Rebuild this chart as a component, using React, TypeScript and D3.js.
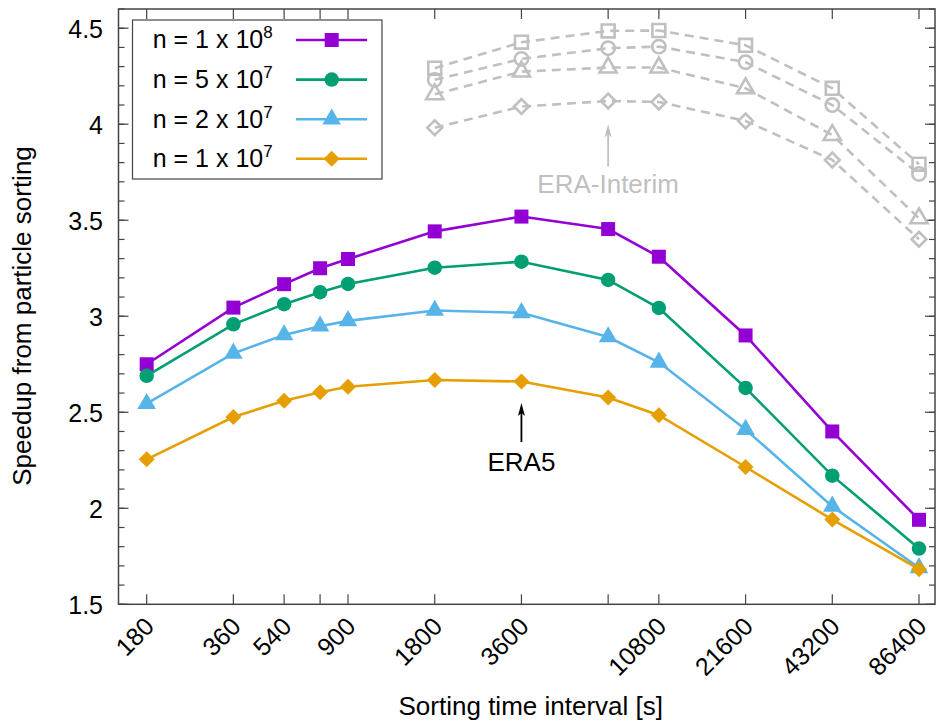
import React from 'react';
import * as d3 from 'd3';

// ---- data ----
const intervals = [180, 360, 540, 720, 900, 1800, 3600, 7200, 10800, 21600, 43200, 86400];
const xTickLabels = ['180', '360', '540', '', '900', '1800', '3600', '', '10800', '21600', '43200', '86400'];
const era5N1e8 = [2.75, 3.045, 3.167, 3.25, 3.298, 3.442, 3.519, 3.454, 3.31, 2.90, 2.40, 1.94];
const era5N5e7 = [2.69, 2.958, 3.063, 3.125, 3.168, 3.253, 3.284, 3.189, 3.043, 2.627, 2.17, 1.79];
const era5N2e7 = [2.545, 2.807, 2.903, 2.948, 2.976, 3.03, 3.018, 2.892, 2.76, 2.41, 2.01, 1.69];
const era5N1e7 = [2.255, 2.475, 2.56, 2.604, 2.633, 2.668, 2.66, 2.577, 2.485, 2.215, 1.941, 1.683];

const interimIntervals = [1800, 3600, 7200, 10800, 21600, 43200, 86400];
const interimN1e8 = [4.292, 4.427, 4.486, 4.488, 4.411, 4.187, 3.792];
const interimN5e7 = [4.231, 4.34, 4.396, 4.404, 4.323, 4.10, 3.741];
const interimN2e7 = [4.156, 4.274, 4.295, 4.295, 4.187, 3.944, 3.51];
const interimN1e7 = [3.982, 4.092, 4.121, 4.116, 4.017, 3.814, 3.401];

const legendBase = ['n = 1 x 10', 'n = 5 x 10', 'n = 2 x 10', 'n = 1 x 10'];
const legendExp = ['8', '7', '7', '7'];
const yMajorTicks = [1.5, 2, 2.5, 3, 3.5, 4, 4.5];

const annotations = [
  { label: 'ERA5', x: 3600, tip: 2.548, tail: 2.345, textY: 2.194, color: '#000000' },
  { label: 'ERA-Interim', x: 7200, tip: 4.0, tail: 3.78, textY: 3.644, color: '#c0c0c0' },
];

// ---- layout ----
const W = 937;
const H = 723;
const left = 118.5;
const right = 935;
const top = 9;
const bottom = 604.3;
const FONT = '"Liberation Sans", Arial, Helvetica, sans-serif';

const colors = ['#9400d3', '#009e73', '#56b4e9', '#e69f00'];
const gray = '#c0c0c0';

type Kind = 'square' | 'circle' | 'triangle' | 'diamond';
const kinds: Kind[] = ['square', 'circle', 'triangle', 'diamond'];

function markerPath(kind: Kind, scale = 1): string {
  const s = d3.symbol();
  if (kind === 'square') return s.type(d3.symbolSquare).size(196 * scale)()!;
  if (kind === 'circle') return s.type(d3.symbolCircle).size(165 * scale)()!;
  if (kind === 'triangle') return s.type(d3.symbolTriangle).size(150 * scale)()!;
  return s.type(d3.symbolSquare).size(128 * scale)()!;
}

function Marker({ kind, x, y, fill, stroke, scale = 1, sw = 0 }: any) {
  const rot = kind === 'diamond' ? ' rotate(45)' : '';
  return (
    <path
      d={markerPath(kind, scale)}
      transform={`translate(${x},${y})${rot}`}
      fill={fill}
      stroke={stroke}
      strokeWidth={sw}
    />
  );
}

export default function App() {
  const x = d3.scaleLog().domain([143.7, 98190]).range([left, right]);
  const y = d3.scaleLinear().domain([1.5, 4.6]).range([bottom, top]);

  const era5 = [era5N1e8, era5N5e7, era5N2e7, era5N1e7];
  const interim = [interimN1e8, interimN5e7, interimN2e7, interimN1e7];

  const line = d3
    .line<[number, number]>()
    .x((d) => x(d[0]))
    .y((d) => y(d[1]));

  const minorTicks = d3.range(15, 47).map((v) => v / 10);

  const frameColor = '#444';

  return (
    <svg
      width={W}
      height={H}
      style={{ position: 'absolute', left: 0, top: 0, background: '#fff' }}
      fontFamily={FONT}
    >
      <rect x={0} y={0} width={W} height={H} fill="#fff" />

      {/* minor y ticks */}
      {minorTicks.map((v) => (
        <g key={'m' + v}>
          <line x1={left} x2={left + 6} y1={y(v)} y2={y(v)} stroke={frameColor} strokeWidth={1.2} />
          <line x1={right} x2={right - 6} y1={y(v)} y2={y(v)} stroke={frameColor} strokeWidth={1.2} />
        </g>
      ))}
      {/* major y ticks + labels */}
      {yMajorTicks.map((v) => (
        <g key={'y' + v}>
          <line x1={left} x2={left + 10} y1={y(v)} y2={y(v)} stroke={frameColor} strokeWidth={1.2} />
          <line x1={right} x2={right - 10} y1={y(v)} y2={y(v)} stroke={frameColor} strokeWidth={1.2} />
          <text x={103} y={y(v) + 9.5} fontSize={25} textAnchor="end" fill="#000">
            {d3.format('~g')(v)}
          </text>
        </g>
      ))}
      {/* x ticks + labels */}
      {intervals.map((v, i) => (
        <g key={'x' + v}>
          <line x1={x(v)} x2={x(v)} y1={bottom} y2={bottom - 10} stroke={frameColor} strokeWidth={1.2} />
          <line x1={x(v)} x2={x(v)} y1={top} y2={top + 10} stroke={frameColor} strokeWidth={1.2} />
          {xTickLabels[i] && (
            <text
              transform={`translate(${x(v) + 9},${628}) rotate(-45)`}
              fontSize={25}
              textAnchor="end"
              fill="#000"
            >
              {xTickLabels[i]}
            </text>
          )}
        </g>
      ))}

      {/* ERA-Interim dashed series */}
      {interim.map((vals, si) => {
        const pts = interimIntervals.map((t, i) => [t, vals[i]] as [number, number]);
        return (
          <g key={'int' + si}>
            <path d={line(pts)!} fill="none" stroke={gray} strokeWidth={2.6} strokeDasharray="9,6" />
            {pts.map((p, i) => (
              <Marker
                key={i}
                kind={kinds[si]}
                x={x(p[0])}
                y={y(p[1])}
                fill="none"
                stroke={gray}
                sw={2.6}
                scale={0.85}
              />
            ))}
          </g>
        );
      })}

      {/* ERA5 solid series */}
      {era5.map((vals, si) => {
        const pts = intervals.map((t, i) => [t, vals[i]] as [number, number]);
        return (
          <g key={'e5' + si}>
            <path d={line(pts)!} fill="none" stroke={colors[si]} strokeWidth={2.6} />
            {pts.map((p, i) => (
              <Marker key={i} kind={kinds[si]} x={x(p[0])} y={y(p[1])} fill={colors[si]} stroke="none" />
            ))}
          </g>
        );
      })}

      {/* annotations */}
      {annotations.map((a) => {
        const ax = x(a.x);
        const yt = y(a.tip);
        const yb = y(a.tail);
        return (
          <g key={a.label}>
            <line x1={ax} x2={ax} y1={yb} y2={yt + 6} stroke={a.color} strokeWidth={1.8} />
            <path d={`M${ax},${yt} L${ax - 3.5},${yt + 13} L${ax},${yt + 10} L${ax + 3.5},${yt + 13} Z`} fill={a.color} />
            <text x={ax} y={y(a.textY)} fontSize={26} textAnchor="middle" fill={a.color}>
              {a.label}
            </text>
          </g>
        );
      })}

      {/* legend */}
      <rect x={132.5} y={20} width={249.5} height={159} fill="#fff" stroke={frameColor} strokeWidth={1.2} />
      {legendBase.map((lab, i) => {
        const cy = 40 + i * 39.6;
        return (
          <g key={'lg' + i}>
            <text x={152.7} y={cy + 8.3} fontSize={25} fill="#000">
              {lab}
              <tspan fontSize={17} dy={-10}>
                {legendExp[i]}
              </tspan>
            </text>
            <line x1={296} x2={367} y1={cy} y2={cy} stroke={colors[i]} strokeWidth={2.6} />
            <Marker kind={kinds[i]} x={331.7} y={cy} fill={colors[i]} stroke="none" />
          </g>
        );
      })}

      {/* frame */}
      <rect x={left} y={top} width={right - left} height={bottom - top} fill="none" stroke={frameColor} strokeWidth={1.5} />

      {/* axis titles */}
      <text x={(left + right) / 2 + 4} y={715} fontSize={26} textAnchor="middle" fill="#000">
        Sorting time interval [s]
      </text>
      <text transform={`translate(31,${316}) rotate(-90)`} fontSize={26} textAnchor="middle" fill="#000">
        Speedup from particle sorting
      </text>
    </svg>
  );
}
